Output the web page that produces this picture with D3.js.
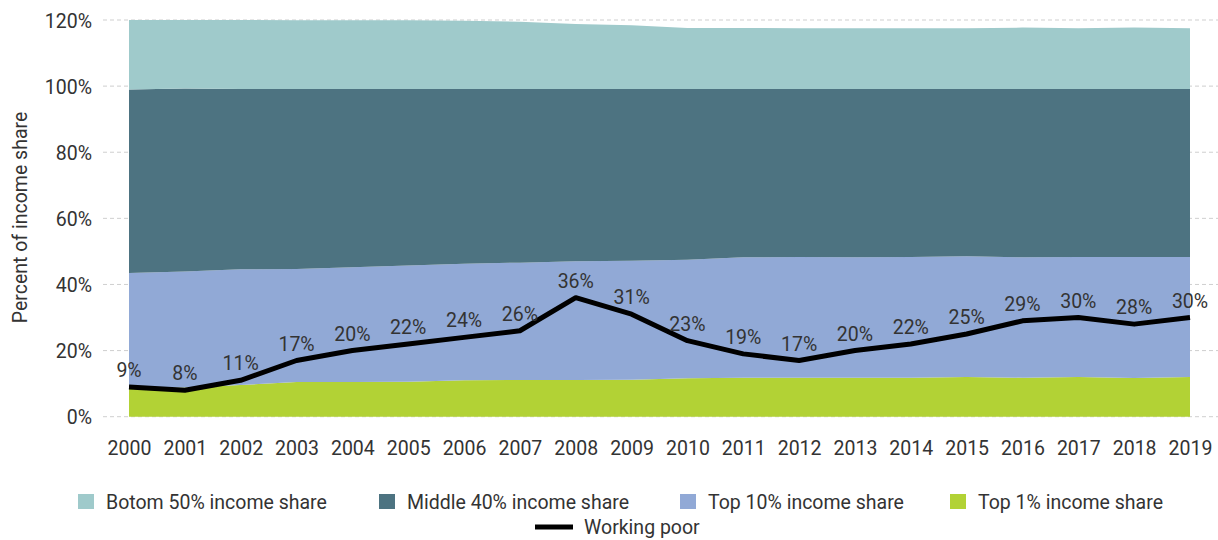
<!DOCTYPE html>
<html>
<head>
<meta charset="utf-8">
<script src="https://cdn.jsdelivr.net/npm/d3@7"></script>
<style>
  html, body { margin: 0; padding: 0; background: #fff; }
  svg { display: block; }
  text { font-family: Roboto, "Liberation Sans", Arial, sans-serif; fill: #333; }
</style>
</head>
<body>
<svg id="chart" width="1218" height="540"></svg>
<script>
// Years on the x axis
const years = [2000, 2001, 2002, 2003, 2004, 2005, 2006, 2007, 2008, 2009,
               2010, 2011, 2012, 2013, 2014, 2015, 2016, 2017, 2018, 2019];

// Income share bands (percentage points), stacked from the bottom up
const top1Share    = [8.6, 8.8, 9.6, 10.5, 10.5, 10.6, 11.0, 11.1, 11.1, 11.2,
                      11.6, 11.8, 11.8, 11.8, 11.8, 12.0, 11.8, 12.0, 11.7, 12.0];
const top10Share   = [34.9, 35.1, 35.0, 34.2, 34.7, 35.1, 35.3, 35.5, 35.9, 36.0,
                      35.9, 36.4, 36.5, 36.4, 36.5, 36.5, 36.4, 36.3, 36.6, 36.3];
const middle40Share = [55.5, 55.4, 54.5, 54.4, 53.9, 53.4, 52.8, 52.5, 52.1, 51.9,
                       51.6, 50.9, 50.8, 50.9, 50.8, 50.6, 50.9, 50.8, 50.8, 50.8];
const bottom50Share = [21.0, 20.7, 20.9, 20.8, 20.8, 20.8, 20.7, 20.4, 19.7, 19.3,
                       18.5, 18.5, 18.4, 18.4, 18.4, 18.4, 18.6, 18.4, 18.6, 18.4];

// Working poor (%)
const workingPoor = [9, 8, 11, 17, 20, 22, 24, 26, 36, 31,
                     23, 19, 17, 20, 22, 25, 29, 30, 28, 30];

// Y axis ticks
const yTicks = [0, 20, 40, 60, 80, 100, 120];

// Series names (stack order, bottom first)
const seriesKeys = ["top1", "top10", "middle40", "bottom50"];
const seriesLabels = {
  bottom50: "Botom 50% income share",
  middle40: "Middle 40% income share",
  top10: "Top 10% income share",
  top1: "Top 1% income share"
};
const seriesColors = {
  bottom50: "#9fcacb",
  middle40: "#4d7381",
  top10: "#91a9d6",
  top1: "#b2d235"
};

const rows = years.map((yr, i) => ({
  year: yr,
  top1: top1Share[i],
  top10: top10Share[i],
  middle40: middle40Share[i],
  bottom50: bottom50Share[i]
}));

const svg = d3.select("#chart");
const FS = 19.5;

const x = d3.scalePoint().domain(years).range([129, 1190]);
const y = d3.scaleLinear().domain([0, 120]).range([416.7, 20]);

// Dashed horizontal gridlines
svg.append("g").selectAll("line")
  .data(yTicks)
  .join("line")
  .attr("x1", 103).attr("x2", 1218)
  .attr("y1", d => y(d)).attr("y2", d => y(d))
  .attr("stroke", "#cfcfcf")
  .attr("stroke-width", 1)
  .attr("stroke-dasharray", "4,3");

// Stacked areas
const stacked = d3.stack().keys(seriesKeys)(rows);
const area = d3.area()
  .x(d => x(d.data.year))
  .y0(d => y(d[0]))
  .y1(d => y(d[1]));

svg.append("g").selectAll("path")
  .data(stacked)
  .join("path")
  .attr("d", area)
  .attr("fill", d => seriesColors[d.key]);

// Y axis labels
const yAxis = d3.axisLeft(y).tickValues(yTicks).tickFormat(d => d + "%").tickSize(0).tickPadding(0);
const yg = svg.append("g").attr("transform", "translate(92,0)").call(yAxis);
yg.select(".domain").remove();
yg.selectAll("text")
  .attr("font-size", FS)
  .attr("font-family", null)
  .attr("dy", "0.36em")
  .style("fill", "#333");

// X axis labels
const xAxis = d3.axisBottom(x).tickSize(0).tickPadding(0).tickFormat(d => String(d));
const xg = svg.append("g").attr("transform", "translate(0,455)").call(xAxis);
xg.select(".domain").remove();
xg.selectAll("text")
  .attr("font-size", FS)
  .attr("font-family", null)
  .attr("dy", 0)
  .attr("y", 0)
  .style("fill", "#333");

// Y axis title
svg.append("text")
  .attr("transform", "translate(26.5,217.5) rotate(-90)")
  .attr("text-anchor", "middle")
  .attr("font-size", FS)
  .text("Percent of income share");

// Working poor line
const line = d3.line()
  .x((d, i) => x(years[i]))
  .y(d => y(d));

svg.append("path")
  .datum(workingPoor)
  .attr("d", line)
  .attr("fill", "none")
  .attr("stroke", "#000")
  .attr("stroke-width", 5)
  .attr("stroke-linejoin", "round");

// Value labels above the line
svg.append("g").selectAll("text")
  .data(workingPoor)
  .join("text")
  .attr("x", (d, i) => x(years[i]))
  .attr("y", d => y(d) - 10)
  .attr("text-anchor", "middle")
  .attr("font-size", FS)
  .text(d => d + "%");

// Legend
const legendItems = [
  { key: "bottom50", sx: 78 },
  { key: "middle40", sx: 379 },
  { key: "top10", sx: 680 },
  { key: "top1", sx: 950 }
];
const lg = svg.append("g");
legendItems.forEach(it => {
  lg.append("rect")
    .attr("x", it.sx).attr("y", 494)
    .attr("width", 16).attr("height", 15)
    .attr("fill", seriesColors[it.key]);
  lg.append("text")
    .attr("x", it.sx + 28).attr("y", 509)
    .attr("font-size", FS)
    .text(seriesLabels[it.key]);
});
lg.append("line")
  .attr("x1", 535).attr("x2", 573)
  .attr("y1", 527).attr("y2", 527)
  .attr("stroke", "#000")
  .attr("stroke-width", 5);
lg.append("text")
  .attr("x", 584).attr("y", 534)
  .attr("font-size", FS)
  .text("Working poor");
</script>
</body>
</html>
